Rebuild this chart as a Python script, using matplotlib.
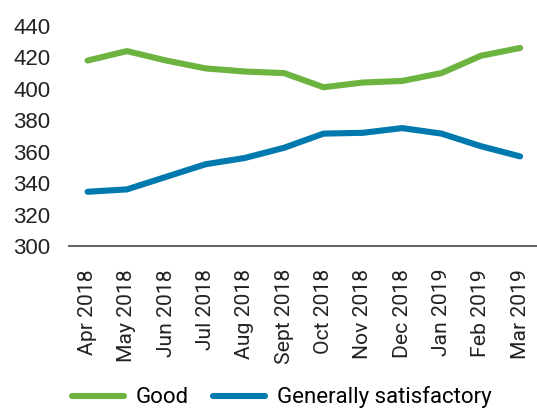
import matplotlib.pyplot as plt

# data
months = ['Apr 2018', 'May 2018', 'Jun 2018', 'Jul 2018', 'Aug 2018', 'Sept 2018',
          'Oct 2018', 'Nov 2018', 'Dec 2018', 'Jan 2019', 'Feb 2019', 'Mar 2019']
good = [418, 424, 418, 413, 411, 410, 401, 404, 405, 410, 421, 426]
generally_satisfactory = [334.5, 336, 344, 352, 356, 362.5, 371.5, 372, 375, 371.5, 363.5, 357]
y_ticks = [300, 320, 340, 360, 380, 400, 420, 440]

green = '#6db33f'
blue = '#0079ae'

plt.rcParams['font.family'] = ['Liberation Sans', 'DejaVu Sans']

fig = plt.figure(figsize=(5.37, 4.12), dpi=100)
ax = fig.add_axes([0.128, 0.403, 0.872, 0.534])

x = list(range(len(months)))
ax.plot(x, good, color=green, linewidth=4.4, solid_capstyle='round', label='Good')
ax.plot(x, generally_satisfactory, color=blue, linewidth=4.4, solid_capstyle='round',
        label='Generally satisfactory')

ax.set_xlim(-0.48, 11.43)
ax.set_ylim(300, 440)
ax.set_yticks(y_ticks)
ax.set_xticks(x)
ax.set_xticklabels(months, rotation=90, fontsize=15.2, family=['Roboto', 'DejaVu Sans'])
ax.tick_params(axis='y', length=0, labelsize=16, colors='#222222', pad=13)
ax.tick_params(axis='x', length=0, colors='#222222', pad=16.5)

for side in ['top', 'right', 'left']:
    ax.spines[side].set_visible(False)
ax.spines['bottom'].set_color('#666666')
ax.spines['bottom'].set_linewidth(1.5)

fig.legend(loc='lower center', bbox_to_anchor=(0.525, -0.04), ncol=2, frameon=False,
           handlelength=2.3, columnspacing=1.1, handletextpad=0.55,
           prop={'family': ['Roboto', 'DejaVu Sans'], 'size': 16})

fig.savefig('out.png', dpi=100)
